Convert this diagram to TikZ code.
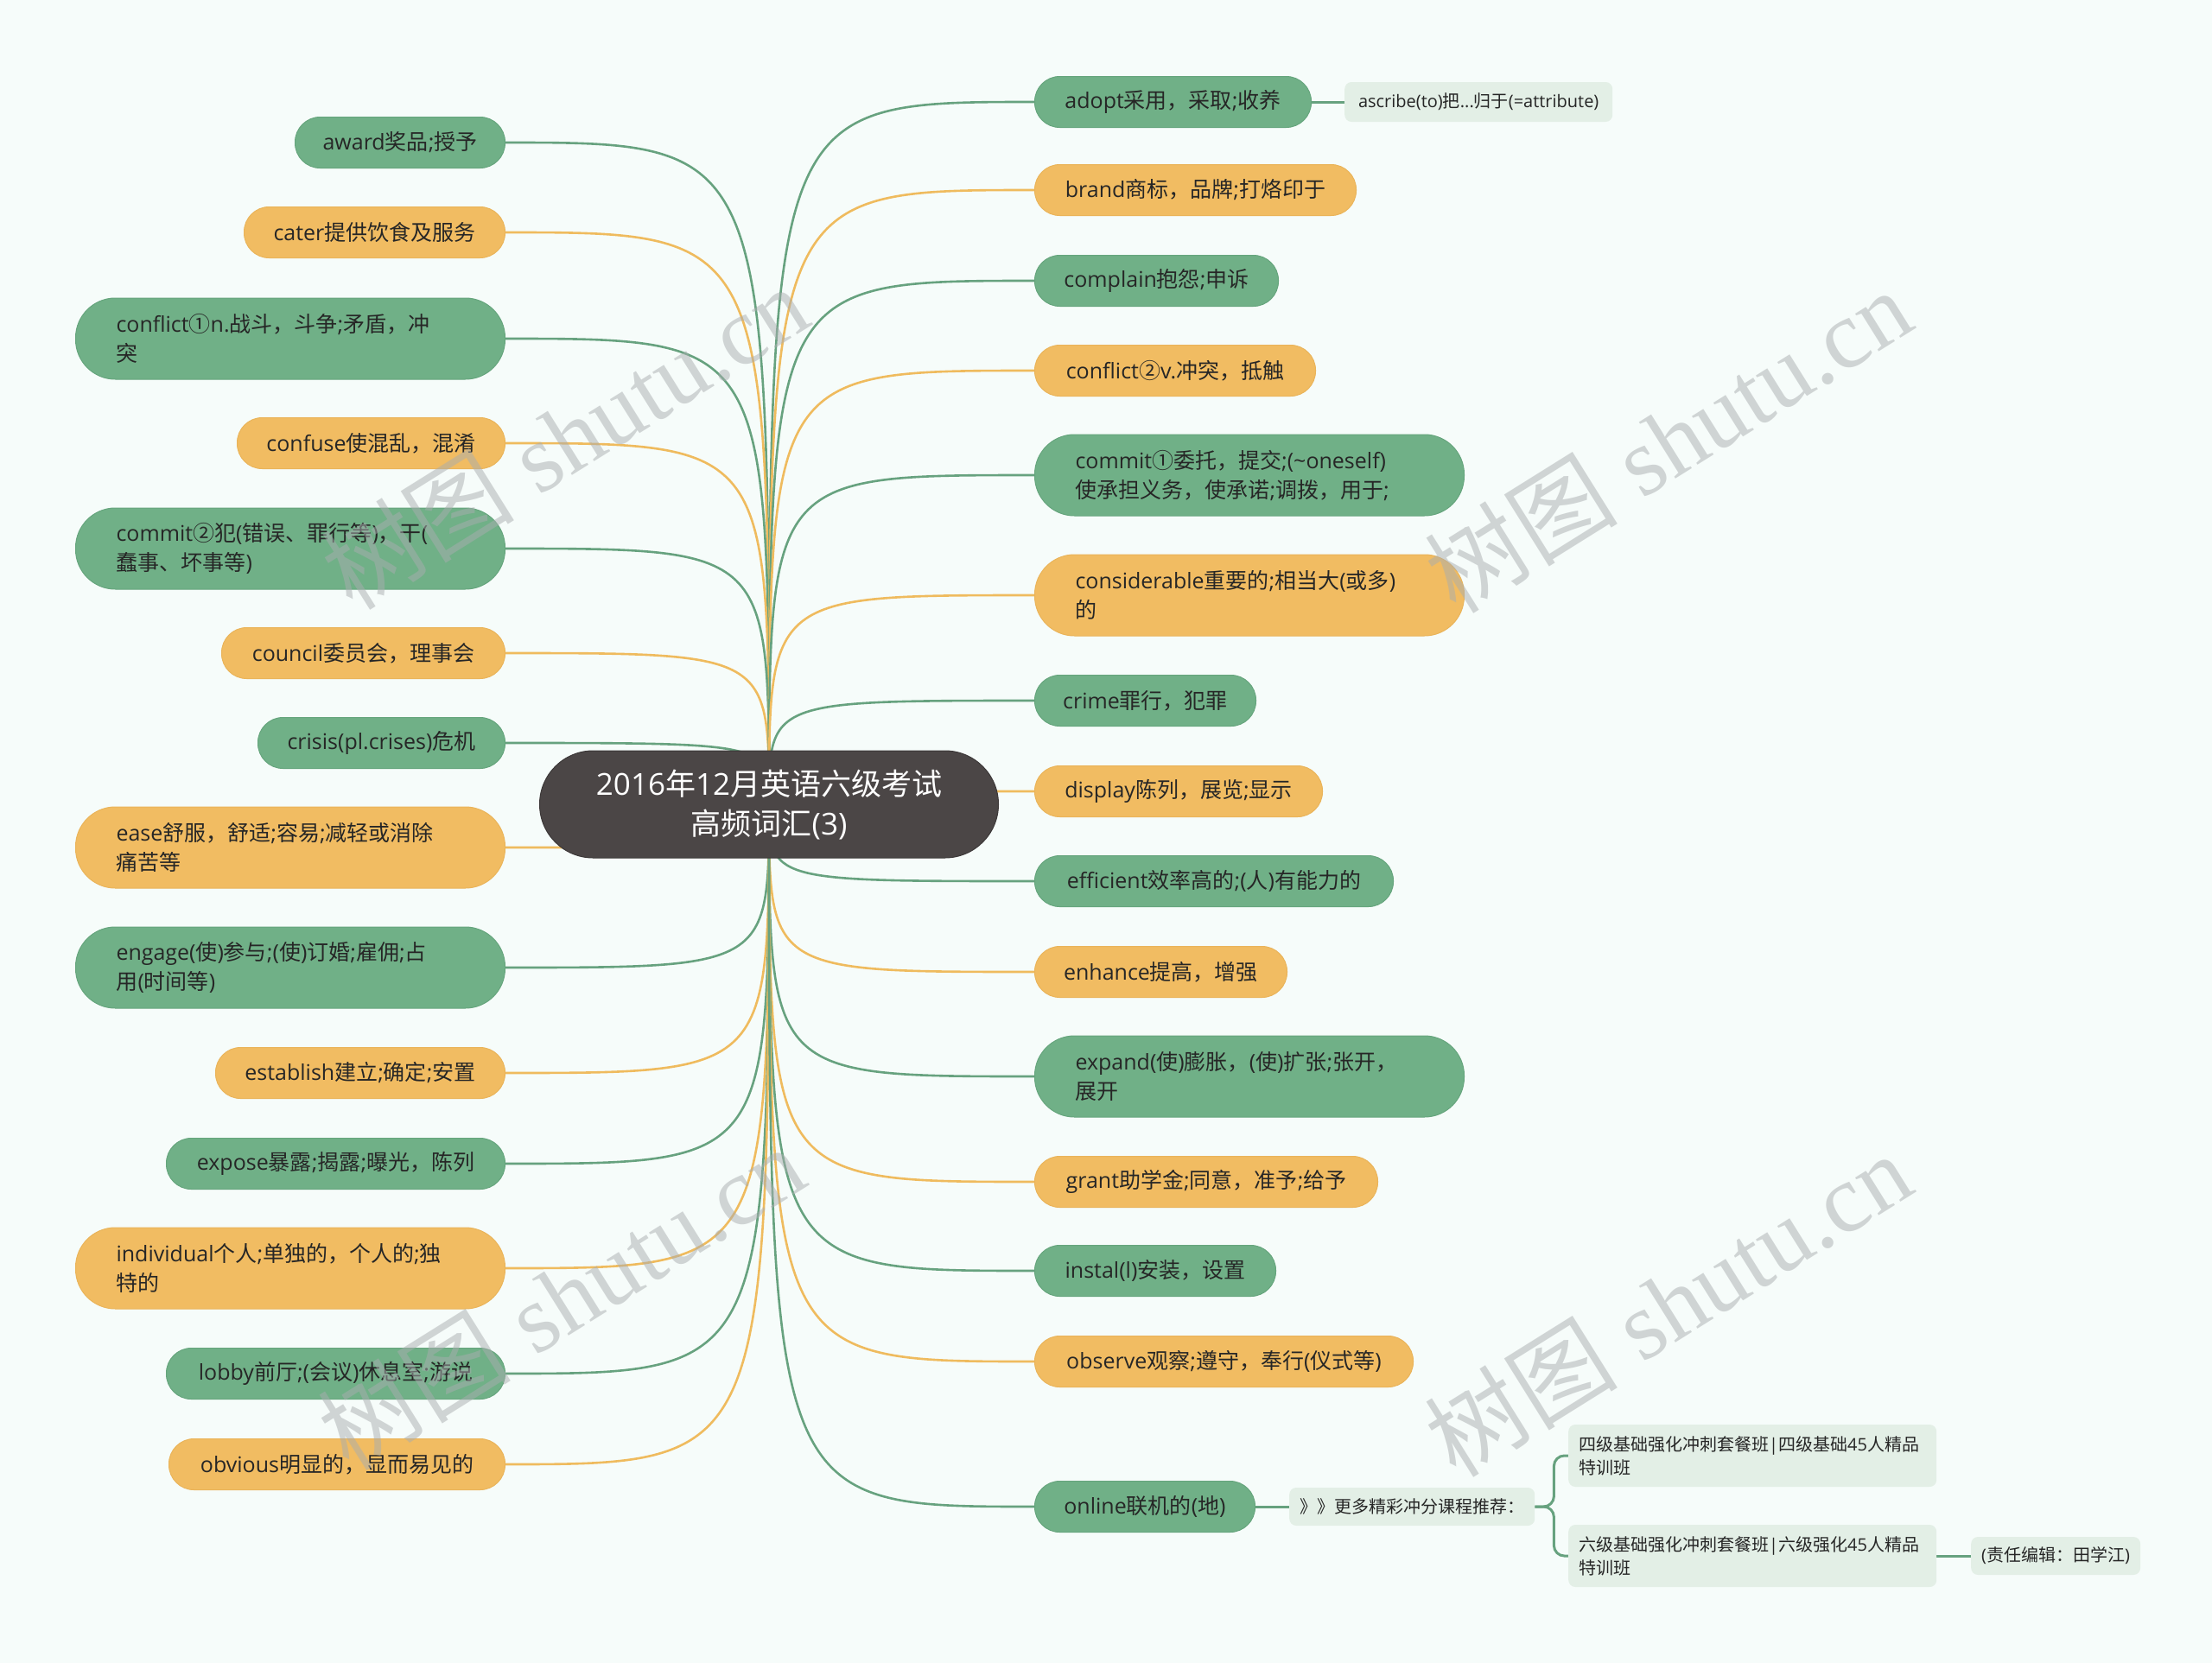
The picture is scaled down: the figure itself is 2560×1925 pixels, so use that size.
\documentclass[tikz,border=0pt]{standalone}
\usepackage{fontspec}
\setmainfont{Open Sans}
\newfontfamily\cjkf{Noto Sans CJK SC}
\newfontfamily\latf{Open Sans}
\newfontfamily\wmlat{Liberation Serif}
\usetikzlibrary{backgrounds}
\newcount\mycnt
\newXeTeXintercharclass\cjkcls
\def\setcls#1#2{\mycnt=#1\relax\loop\XeTeXcharclass\mycnt=\cjkcls\advance\mycnt by 1\relax\ifnum\mycnt<#2\relax\repeat}
\setcls{"2460}{"2500}
\setcls{"3000}{"3040}
\setcls{"4E00}{"A000}
\setcls{"FF00}{"FFF0}
\XeTeXinterchartokenstate=1
\XeTeXinterchartoks 0 \cjkcls = {\cjkf}
\XeTeXinterchartoks 4095 \cjkcls = {\cjkf}
\XeTeXinterchartoks \cjkcls 0 = {\latf}
\XeTeXinterchartoks \cjkcls 4095 = {\latf}
\definecolor{bgc}{HTML}{F6FCFA}
\definecolor{gfill}{HTML}{70B087}
\definecolor{gedge}{HTML}{66A57D}
\definecolor{ofill}{HTML}{F1BC62}
\definecolor{oedge}{HTML}{EAB45A}
\definecolor{lfill}{HTML}{E3EFE6}
\definecolor{gline}{HTML}{67A27F}
\definecolor{oline}{HTML}{EFBB5E}
\definecolor{cfill}{HTML}{4B4646}
\definecolor{txt}{HTML}{262626}
\definecolor{wmc}{HTML}{A9ADAF}
\tikzset{
  base/.style={font=\fontsize{25}{34}\selectfont, text=txt, inner xsep=0pt, inner ysep=0pt},
  gnode/.style={base, fill=gfill, draw=gedge, line width=1pt, rounded corners=29pt, minimum height=59pt},
  onode/.style={base, fill=ofill, draw=oedge, line width=1pt, rounded corners=29pt, minimum height=59pt},
  gtwo/.style={gnode, minimum height=94pt, rounded corners=46pt, inner xsep=47pt, text width=403pt, align=left},
  otwo/.style={onode, minimum height=94pt, rounded corners=46pt, inner xsep=47pt, text width=403pt, align=left},
  lnode/.style={font=\fontsize{20}{27}\selectfont, text=txt, fill=lfill, rounded corners=8pt, inner xsep=12pt, inner ysep=0pt},
  cnode/.style={font=\fontsize{35}{46}\selectfont, text=white, fill=cfill, draw=cfill!80!black, line width=1pt, rounded corners=62pt, minimum width=531pt, minimum height=124pt, align=center},
  gl/.style={draw=gline, line width=2.6pt},
  ol/.style={draw=oline, line width=2.6pt},
  sl/.style={draw=gline, line width=3pt},
  wm/.style={font=\fontsize{112}{120}\selectfont, text=wmc, text opacity=0.5, inner sep=0pt, rotate=32}
}
\begin{document}
\begin{tikzpicture}[x=1pt, y=-1pt]
\useasboundingbox (0,0) rectangle (2560,1925);
\begin{scope}[on background layer]
\fill[bgc] (0,0) rectangle (2560,1925);
\end{scope}
% central
\node[cnode] (c) at (890,931) {2016年12月英语六级考试\\高频词汇(3)};
% left
\node[gnode, minimum width=243pt, anchor=east] (l1) at (585,165) {award奖品;授予};
\node[onode, minimum width=302pt, anchor=east] (l2) at (585,269) {cater提供饮食及服务};
\node[gtwo, anchor=east] (l3) at (585,392) {conflict①n.战斗，斗争;矛盾，冲\\突};
\node[onode, minimum width=310pt, anchor=east] (l4) at (585,513) {confuse使混乱，混淆};
\node[gtwo, anchor=east] (l5) at (585,635) {commit②犯(错误、罪行等)，干(\\蠢事、坏事等)};
\node[onode, minimum width=328pt, anchor=east] (l6) at (585,756) {council委员会，理事会};
\node[gnode, minimum width=286pt, anchor=east] (l7) at (585,860) {crisis(pl.crises)危机};
\node[otwo, anchor=east] (l8) at (585,981) {ease舒服，舒适;容易;减轻或消除\\痛苦等};
\node[gtwo, anchor=east] (l9) at (585,1120) {engage(使)参与;(使)订婚;雇佣;占\\用(时间等)};
\node[onode, minimum width=335pt, anchor=east] (l10) at (585,1242) {establish建立;确定;安置};
\node[gnode, minimum width=392pt, anchor=east] (l11) at (585,1347) {expose暴露;揭露;曝光，陈列};
\node[otwo, anchor=east] (l12) at (585,1468) {individual个人;单独的，个人的;独\\特的};
\node[gnode, minimum width=392pt, anchor=east] (l13) at (585,1590) {lobby前厅;(会议)休息室;游说};
\node[onode, minimum width=389pt, anchor=east] (l14) at (585,1695) {obvious明显的，显而易见的};
% right
\node[gnode, minimum width=320pt, anchor=west] (r1) at (1197,118) {adopt采用，采取;收养};
\node[onode, minimum width=372pt, anchor=west] (r2) at (1197,220) {brand商标，品牌;打烙印于};
\node[gnode, minimum width=282pt, anchor=west] (r3) at (1197,325) {complain抱怨;申诉};
\node[onode, minimum width=325pt, anchor=west] (r4) at (1197,429) {conflict②v.冲突，抵触};
\node[gtwo, anchor=west] (r5) at (1197,550) {commit①委托，提交;({\char"7E}oneself)\\使承担义务，使承诺;调拨，用于;};
\node[otwo, anchor=west] (r6) at (1197,689) {considerable重要的;相当大(或多)\\的};
\node[gnode, minimum width=256pt, anchor=west] (r7) at (1197,811) {crime罪行，犯罪};
\node[onode, minimum width=333pt, anchor=west] (r8) at (1197,916) {display陈列，展览;显示};
\node[gnode, minimum width=415pt, anchor=west] (r9) at (1197,1020) {efficient效率高的;(人)有能力的};
\node[onode, minimum width=292pt, anchor=west] (r10) at (1197,1125) {enhance提高，增强};
\node[gtwo, anchor=west] (r11) at (1197,1246) {expand(使)膨胀，(使)扩张;张开，\\展开};
\node[onode, minimum width=397pt, anchor=west] (r12) at (1197,1368) {grant助学金;同意，准予;给予};
\node[gnode, minimum width=279pt, anchor=west] (r13) at (1197,1471) {instal(l)安装，设置};
\node[onode, minimum width=438pt, anchor=west] (r14) at (1197,1576) {observe观察;遵守，奉行(仪式等)};
\node[gnode, minimum width=255pt, anchor=west] (r15) at (1197,1744) {online联机的(地)};
% sub nodes
\node[lnode, minimum width=310pt, minimum height=46pt, anchor=west] (a1) at (1556,118) {ascribe(to)把...归于(=attribute)};
\node[lnode, minimum width=281pt, minimum height=44pt, anchor=west] (q) at (1492,1744) {》》更多精彩冲分课程推荐：};
\node[lnode, text width=402pt, align=left, minimum height=72pt, anchor=west] (s4) at (1815,1685) {四级基础强化冲刺套餐班|四级基础45人精品\\特训班};
\node[lnode, text width=402pt, align=left, minimum height=72pt, anchor=west] (s6) at (1815,1801) {六级基础强化冲刺套餐班|六级强化45人精品\\特训班};
\node[lnode, minimum width=191pt, minimum height=44pt, anchor=west] (ed) at (2281,1801) {(责任编辑：田学江)};
% connectors
\begin{scope}[on background layer]
\foreach \n/\s in {l1/gl,l2/ol,l3/gl,l4/ol,l5/gl,l6/ol,l7/gl,l8/ol,l9/gl,l10/ol,l11/gl,l12/ol,l13/gl,l14/ol}
  \draw[\s] (c.center) .. controls (c.center |- \n.east) .. (\n.east);
\foreach \n/\s in {r1/gl,r2/ol,r3/gl,r4/ol,r5/gl,r6/ol,r7/gl,r8/ol,r9/gl,r10/ol,r11/gl,r12/ol,r13/gl,r14/ol,r15/gl}
  \draw[\s] (c.center) .. controls (c.center |- \n.west) .. (\n.west);
\draw[sl] (r1.east) -- (a1.west);
\draw[sl] (r15.east) -- (q.west);
\draw[sl, rounded corners=12pt] (q.east) -- ++(22,0) |- (s4.west);
\draw[sl, rounded corners=12pt] (q.east) -- ++(22,0) |- (s6.west);
\draw[sl] (s6.east) -- (ed.west);
\end{scope}
% watermarks
\node[wm] (w1) at (653,506) {{\cjkf 树图} {\wmlat shutu.cn}};
\node[wm] (w2) at (1930,510) {{\cjkf 树图} {\wmlat shutu.cn}};
\node[wm] (w3) at (649,1502) {{\cjkf 树图} {\wmlat shutu.cn}};
\node[wm] (w4) at (1930,1510) {{\cjkf 树图} {\wmlat shutu.cn}};
\end{tikzpicture}
\end{document}
